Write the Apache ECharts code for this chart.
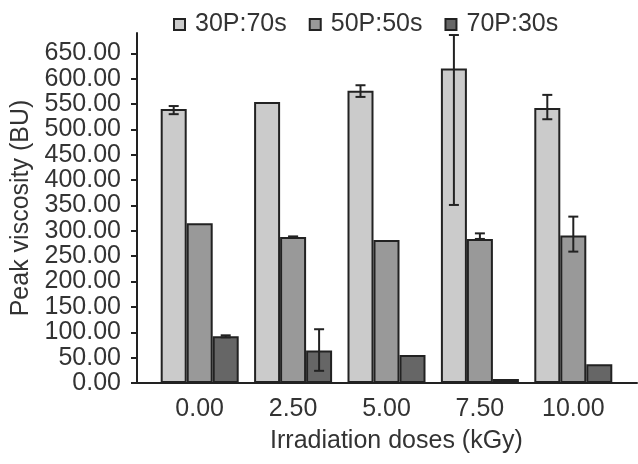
<!DOCTYPE html>
<html>
<head>
<meta charset="utf-8">
<script src="https://cdn.jsdelivr.net/npm/echarts@6/dist/echarts.min.js"></script>
<style>
    html, body {margin: 0; padding: 0; background: #fff;}
    #chart {width: 638px; height: 464px;}
</style>
</head>
<body>
<div id="chart"></div>
<script>
    const categories = ['0.00', '2.50', '5.00', '7.50', '10.00'];
    const seriesNames = ['30P:70s', '50P:50s', '70P:30s'];
    // bar heights
    const p30 = [540, 554, 576, 620, 542];
    const p50 = [315, 288, 282, 284, 291];
    const p70 = [92, 64, 55, 8, 37];
    // error bar ends (low / high)
    const p30Low = [530, 554, 564, 351, 520];
    const p30High = [546, 554, 587, 686, 568];
    const p50Low = [315, 287, 282, 284, 259];
    const p50High = [315, 289, 282, 295, 328];
    const p70Low = [90, 24, 55, 8, 37];
    const p70High = [94, 106, 55, 8, 37];
    const yTicks = [0, 50, 100, 150, 200, 250, 300, 350, 400, 450, 500, 550, 600, 650];

    const FONT = 'Liberation Sans, Arial, sans-serif';
    const INK = '#222';
    const BAR_W = 26;

    const chart = echarts.init(document.getElementById('chart'));

    function barSeries(name, data, color) {
        return {
            name, type: 'bar', xAxisIndex: 0, yAxisIndex: 0,
            barWidth: BAR_W, barGap: '0%', data,
            itemStyle: {color, borderColor: INK, borderWidth: 2}
        };
    }

    function errSeries(name, low, high, offset) {
        return {
            name: name + ' err', type: 'custom', xAxisIndex: 0, yAxisIndex: 0, z: 5,
            data: low.map((v, i) => [i, v, high[i]]),
            renderItem: (params, api) => {
                const lo = api.value(1), hi = api.value(2);
                if (lo === hi) return null;
                const a = api.coord([api.value(0), lo]);
                const b = api.coord([api.value(0), hi]);
                const x = a[0] + offset, cap = 5;
                const st = {stroke: INK, lineWidth: 2};
                return {
                    type: 'group', children: [
                        {type: 'line', shape: {x1: x, y1: a[1], x2: x, y2: b[1]}, style: st},
                        {type: 'line', shape: {x1: x - cap, y1: a[1], x2: x + cap, y2: a[1]}, style: st},
                        {type: 'line', shape: {x1: x - cap, y1: b[1], x2: x + cap, y2: b[1]}, style: st}
                    ]
                };
            }
        };
    }

    chart.setOption({
        animation: false,
        textStyle: {fontFamily: FONT},
        legend: {
            data: seriesNames, top: 7, left: 168, icon: 'rect',
            itemWidth: 11, itemHeight: 11, itemGap: 22,
            textStyle: {fontSize: 25, color: '#333', fontFamily: FONT, padding: [0, 0, 0, 5]}
        },
        grid: [
            {left: 153, right: 18, top: 33, bottom: 81},
            {left: 137, right: 1, top: 33, bottom: 81}
        ],
        xAxis: [{
            type: 'category', gridIndex: 0, data: categories,
            axisLine: {show: false},
            axisTick: {alignWithLabel: true, length: 7, lineStyle: {color: INK, width: 2}},
            axisLabel: {fontSize: 25, color: '#333', margin: 14, fontFamily: FONT},
            name: 'Irradiation doses (kGy)', nameLocation: 'middle', nameGap: 46,
            nameTextStyle: {fontSize: 25, color: '#333', fontFamily: FONT, padding: [0, 0, 0, 20]}
        }, {
            type: 'value', gridIndex: 1, min: 0, max: 1,
            axisLine: {show: true, lineStyle: {color: INK, width: 2}},
            axisTick: {show: false}, axisLabel: {show: false}, splitLine: {show: false}
        }],
        yAxis: [{
            type: 'value', gridIndex: 0, min: 0, max: 690, show: false, splitLine: {show: false}
        }, {
            type: 'value', gridIndex: 1, min: 0, max: 690, interval: 50,
            axisLine: {show: true, lineStyle: {color: INK, width: 2}},
            axisTick: {show: true, length: 6, customValues: yTicks, lineStyle: {color: INK, width: 2}},
            axisLabel: {
                customValues: yTicks, fontSize: 25, color: '#333', margin: 16, fontFamily: FONT,
                formatter: v => yTicks.includes(v) ? v.toFixed(2) : ''
            },
            splitLine: {show: false},
            name: 'Peak viscosity (BU)', nameLocation: 'middle', nameGap: 98,
            nameTextStyle: {fontSize: 25, color: '#333', fontFamily: FONT}
        }],
        series: [
            barSeries(seriesNames[0], p30, '#cbcbcb'),
            barSeries(seriesNames[1], p50, '#999999'),
            barSeries(seriesNames[2], p70, '#666666'),
            errSeries(seriesNames[0], p30Low, p30High, -BAR_W),
            errSeries(seriesNames[1], p50Low, p50High, 0),
            errSeries(seriesNames[2], p70Low, p70High, BAR_W)
        ]
    });
</script>
</body>
</html>
